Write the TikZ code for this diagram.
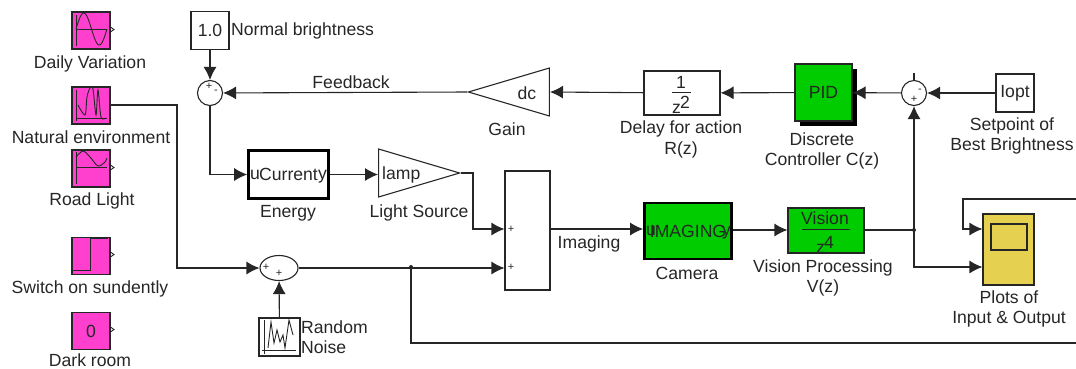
\documentclass[tikz,border=0pt]{standalone}
\usepackage{fontspec}
\setmainfont{Liberation Sans}
\usetikzlibrary{arrows.meta,shapes.geometric,shadows}
\definecolor{SourcePink}{HTML}{FF40CF}
\definecolor{BlockGreen}{HTML}{00CC00}
\definecolor{ScopeYellow}{HTML}{E6D050}
\definecolor{LineGray}{HTML}{262626}
\tikzset{
  >={Latex[length=13pt,width=13pt]},
  every node/.style={text=LineGray, font=\fontsize{17.6}{20.5}\selectfont},
  wire/.style={draw=LineGray, line width=1.1pt},
  block/.style={draw=LineGray, line width=1.1pt, inner sep=0pt},
  source/.style={block, fill=SourcePink, minimum width=38, minimum height=37},
  caption/.style={align=center, inner sep=0pt},
  gainshape/.style={draw=LineGray, line width=1.1pt, isosceles triangle, isosceles triangle stretches, inner sep=0pt, minimum width=48, minimum height=81},
  sign/.style={inner sep=0pt, font=\fontsize{11}{11}\selectfont},
  icon/.style={draw=LineGray, line width=0.9pt},
  fracbar/.style={draw=LineGray, line width=0.8pt}
}
\begin{document}
\begin{tikzpicture}[x=1pt, y=-1pt]
  \useasboundingbox (0,0) rectangle (1076,368);

  % sources on the left
  \node[source] (daily) at (91,30.5) {};
  \node[source] (natural) at (91,105.5) {};
  \node[source] (road) at (91,168.5) {};
  \node[source] (switch) at (91,256) {};
  \node[source] (dark) at (91,331) {0};
  \node[caption] (dailytext) at (90,63.5) {Daily Variation};
  \node[caption] (naturaltext) at (91,137) {Natural environment};
  \node[caption] (roadtext) at (92,200.5) {Road Light};
  \node[caption] (switchtext) at (90,288.5) {Switch on sundently};
  \node[caption] (darktext) at (90,360) {Dark room};

  % little plots in the sources
  \draw[icon] (76,15) -- (76,46) (76,29) -- (107,29);
  \draw[icon] plot[domain=76:107, samples=40, smooth] (\x,{29-16*sin((\x-76)/31*360)});
  \draw[icon] (76,90) -- (76,121) (76,118) -- (107,118);
  \draw[icon] plot[smooth] coordinates {(78,105) (85,115) (87,97) (90,88) (93,89) (96,115) (98,90) (101,117) (106,118)};
  \draw[icon] (76,152) -- (76,184) (76,167) -- (107,167);
  \draw[icon] plot[smooth] coordinates {(76,157) (83,151) (90,157) (98,166) (105,162) (107,158)};
  \draw[icon] (71,270) -- (90,270) -- (90,238) -- (108,238);
  \draw[icon] (109,26) -- (114,29.5) -- (109,33);
  \draw[icon] (109,164) -- (114,167.5) -- (109,171);
  \draw[icon] (109,251) -- (114,254.5) -- (109,258);
  \draw[icon] (109,326) -- (114,329.5) -- (109,333);

  % upper loop
  \node[block, minimum width=38, minimum height=38] (normal) at (210,30.5) {1.0};
  \node[caption, anchor=west] (normaltext) at (231,31) {Normal brightness};
  \node[circle, block, minimum size=25] (sumtop) at (210,93) {};
  \node[sign] (sumtopplus) at (209,86) {+};
  \node[sign] (sumtopminus) at (216,92) {-};
  \node[gainshape, shape border rotate=180, anchor=apex] (gain) at (467,92) {};
  \node (gaintext) at (527,93) {dc};
  \node[caption] (gaincaption) at (507,129) {Gain};
  \node[block, minimum width=76, minimum height=44] (delay) at (682,93) {};
  \node[inner sep=0pt] (delaynum) at (681,82) {1};
  \node[inner sep=0pt] (delayden) at (681,105) {z\raisebox{5pt}{\kern-1pt 2}};
  \draw[fracbar] (672,92) -- (691,92);
  \node[caption] (delaytext) at (681,139.5) {Delay for action\\R(z)};
  \node[block, fill=BlockGreen, minimum width=57, minimum height=57, general shadow={fill=black, shadow xshift=5pt, shadow yshift=-5pt}] (pid) at (823.5,92.5) {PID};
  \node[caption] (pidtext) at (822,151) {Discrete\\Controller C(z)};
  \node[circle, block, minimum size=25] (sumright) at (914,93) {};
  \node[sign] (sumrightplus) at (914,99) {+};
  \node[sign] (sumrightminus) at (920,91) {-};
  \coordinate (sumrightstub) at (914,73);
  \node[block, minimum width=38, minimum height=38] (iopt) at (1015,93) {Iopt};
  \node[caption] (ioptext) at (1012,136) {Setpoint of\\Best Brightness};

  % lower path
  \node[block, line width=2.6pt, draw=black, minimum width=80, minimum height=48] (energy) at (288.5,174.5) {Current};
  \node[anchor=base west, inner sep=0pt] (energyu) at (250,179) {u};
  \node[anchor=base east, inner sep=0pt] (energyy) at (327,179) {y};
  \node[caption] (energytext) at (288,213.5) {Energy};
  \node[gainshape, anchor=apex] (lamp) at (461,173) {};
  \node[anchor=west, inner sep=0pt] (lamptext) at (382,174.5) {lamp};
  \node[caption] (lampcaption) at (419,212.5) {Light Source};
  \node[block, minimum width=45, minimum height=119] (mixer) at (527.5,230.5) {};
  \node[sign] (mixerplusa) at (511,229) {+};
  \node[sign] (mixerplusb) at (511,267) {+};
  \node[caption] (imagingtext) at (589,244) {Imaging};
  \node[block, line width=2.8pt, draw=black, fill=BlockGreen, minimum width=87, minimum height=56] (camera) at (688,231) {IMAGING};
  \node[anchor=base west, inner sep=0pt] (camerau) at (646,235) {u};
  \node[anchor=base east, inner sep=0pt] (cameray) at (731,235) {y};
  \node[caption] (cameratext) at (687,273) {Camera};
  \node[block, fill=BlockGreen, minimum width=76, minimum height=45] (vision) at (826,230.5) {};
  \node[inner sep=0pt] (visionnum) at (825,218) {Vision};
  \node[inner sep=0pt] (visionden) at (825,245) {z\raisebox{5pt}{\kern-1pt 4}};
  \draw[fracbar] (802,229) -- (850,229);
  \node[caption] (visiontext) at (823,278) {Vision Processing\\V(z)};
  \node[block, fill=ScopeYellow, minimum width=51, minimum height=71] (scope) at (1008.5,249.5) {};
  \node[block, minimum width=36, minimum height=26, fill=ScopeYellow] (screen) at (1009,237) {};
  \node[caption] (scopetext) at (1009,309) {Plots of\\Input \& Output};

  % noise sum
  \node[ellipse, block, minimum width=38, minimum height=25] (sumnoise) at (279,268) {};
  \node[sign] (sumnoiseplusa) at (266,267) {+};
  \node[sign] (sumnoiseplusb) at (279,273) {+};
  \node[block, minimum width=41, minimum height=38] (noise) at (279.5,337) {};
  \draw[icon] (264,320) -- (264,354) (262,350) -- (296,350);
  \draw[icon] (268,348) -- (271,322) -- (274,343) -- (277,330) -- (280,342) -- (283,335) -- (285,348) -- (289,320) -- (293,335);
  \node[caption, anchor=west, align=left] (noisetext) at (301,337) {Random\\Noise};

  % turning points
  \coordinate (naturalturn) at (177,105);
  \coordinate (lampturn) at (473,173);
  \coordinate (branchnoise) at (411,267);
  \coordinate (branchvision) at (914,230);
  \coordinate (outbottom) at (1076,343);
  \coordinate (outtop) at (1076,199);
  \coordinate (scopeturn) at (963,199);

  \draw[wire, ->] (normal) -- (sumtop);
  \draw[wire, ->] (gain.apex) -- node[caption, pos=0.475, above=3pt] {Feedback} (sumtop);
  \draw[wire, ->] (delay) -- (gain.lower side);
  \draw[wire, ->] (pid) -- (delay);
  \draw[wire, ->] (sumright) -- (pid);
  \draw[wire, ->] (iopt) -- (sumright);
  \draw[wire] (sumright) -- (sumrightstub);
  \draw[wire, ->] (sumtop) |- (energy);
  \draw[wire, ->] (energy) -- (energy -| lamp.lower side);
  \draw[wire, ->] (lamp.apex) -- (lampturn) |- (mixer.west |- 0,229);
  \draw[wire, ->] (natural.east |- naturalturn) -- (naturalturn) |- (sumnoise.west);
  \draw[wire, ->] (sumnoise.east) -- (mixer.west |- sumnoise.east);
  \draw[wire, ->] (noise) -- (sumnoise);
  \draw[wire] (branchnoise) |- (outbottom);
  \fill[LineGray] (branchnoise) circle (2);
  \draw[wire, ->] (mixer.east |- 0,229) -- (camera.west |- 0,229);
  \draw[wire, ->] (camera.east |- 0,230) -- (vision.west |- 0,230);
  \draw[wire] (vision.east |- branchvision) -- (branchvision);
  \draw[wire, ->] (branchvision) -- (sumright);
  \draw[wire, ->] (branchvision) |- (scope.west |- 0,267);
  \fill[LineGray] (branchvision) circle (2);
  \draw[wire, ->] (outtop) -- (scopeturn) |- (scope.west |- 0,229);
\end{tikzpicture}
\end{document}
